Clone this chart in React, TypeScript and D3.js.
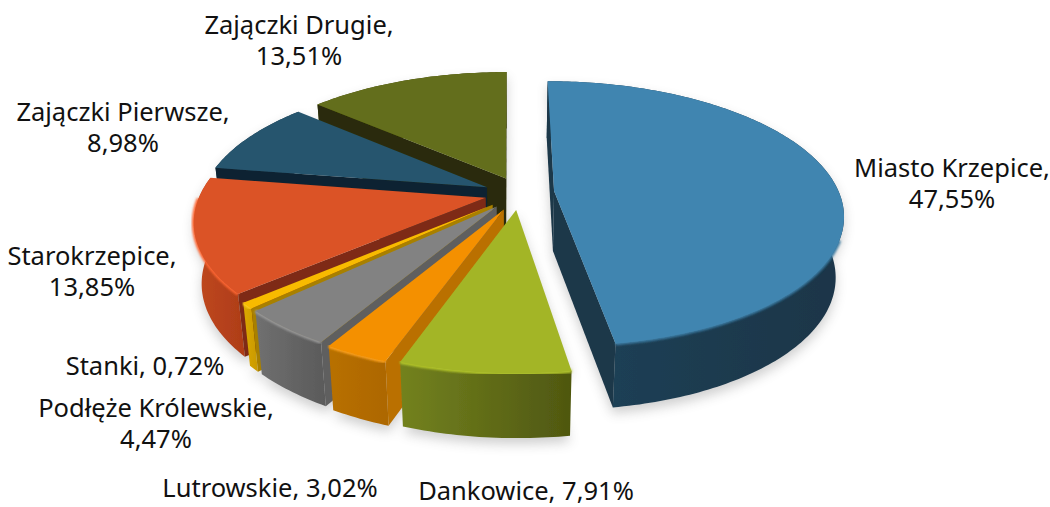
import React from "react";
import * as d3 from "d3";

const names = ["Miasto Krzepice","Dankowice","Lutrowskie","Podłęże Królewskie","Stanki","Starokrzepice","Zajączki Pierwsze","Zajączki Drugie"];
const shares = [47.55,7.91,3.02,4.47,0.72,13.85,8.98,13.51];

// styling / layout, per slice
const topColors = ["#4085b0","#a3b528","#f49000","#828282","#f8bb00","#db5327","#27556e","#646e1b"];
const rimColors = ["#3a7aa2","#b4c72c","#ffa31a","#9a9a9a","#ffcb20","#ff6633","#2e6280","#6f7a20"];
const rimLimit = [-0.35,0,0,0,0,0,0,0];
const wallColors = ["#1b3749","#6a6f18","#ba7000","#5e5e5e","#a88000","#7e2c14","#0f2330","#2a2c08"];
const sideLeft = ["#1e4258","#73821f","#b87000","#707070","#dba800","#c0481f","#1a3a4c","#454c12"];
const sideRight = ["#1a3548","#4f5710","#ad6700","#5a5a5a","#c99900","#ae3d18","#173343","#3f4510"];
const offsetX = [44,6,-6,-13,-17,-24,-23,-4];
const offsetY = [2,43,42,36,32,17,-6,-26];
const drawOrder = [7,6,5,0,4,3,2,1];
const labelX = [952,526,270,156,145,92,123,299];
const labelY = [168,490.5,488,408,366,256,112,25];
const labelOneLine = [false,true,true,false,true,false,false,false];

const W = 1050, H = 507, CX = 510, CY = 190, R = 284, P = 0.17, K = 0.451, DEPTH = 60, INSET = 0.025;

const pieGen = d3.pie<number>().sort(null).value((d) => d);
const arcs = pieGen(shares);
const line = d3.line<[number, number]>();

type Pt = [number, number];
const project = (i: number, radius: number, a: number, low: boolean): Pt => {
  const X = offsetX[i] + radius * Math.sin(a);
  const Y = offsetY[i] - radius * Math.cos(a);
  const w = 1 / (1 - (P * Y) / R);
  const x = CX + X * w * (low ? 1 - INSET : 1);
  const y = CY + K * Y * w + (low ? DEPTH * Math.pow(w, 0.35) : 0);
  return [x, y];
};
const angles = (a0: number, a1: number) => {
  const n = Math.max(4, Math.ceil((a1 - a0) * 60));
  return d3.range(n + 1).map((k) => a0 + ((a1 - a0) * k) / n);
};
const area = (q: Pt[]) => d3.polygonArea(q);

export default function App() {
  const fmt = (v: number) => `${v.toFixed(2).replace(".", ",")}%`;
  return (
    <svg width={W} height={H} style={{ position: "absolute", left: 0, top: 0, background: "#fff" }}>
      <defs>
        <filter id="sh" x="-20%" y="-20%" width="140%" height="140%"><feGaussianBlur stdDeviation="6" /></filter>
        <filter id="soft" x="-5%" y="-5%" width="110%" height="110%"><feGaussianBlur stdDeviation="0.9" /></filter>
        <filter id="aa" x="-2%" y="-2%" width="104%" height="104%"><feGaussianBlur stdDeviation="0.35" /></filter>
        {arcs.map((_, i) => (
          <linearGradient key={i} id={`side${i}`} x1="0" x2="1" y1="0" y2="0">
            <stop offset="0" stopColor={sideLeft[i]} />
            <stop offset="1" stopColor={sideRight[i]} />
          </linearGradient>
        ))}
      </defs>
      <g filter="url(#sh)" opacity={0.28} transform="translate(0,6)">
        {drawOrder.map((i) => {
          const a = arcs[i];
          const as = angles(a.startAngle, a.endAngle);
          const apexLow = project(i, 0, 0, true);
          const pts: Pt[] = [apexLow, ...as.map((t) => project(i, R, t, true))];
          const ptsTop: Pt[] = [project(i, 0, 0, false), ...as.map((t) => project(i, R, t, false))];
          return (
            <g key={i}>
              <path d={line(pts) + "Z"} fill="#555" />
              <path d={line(ptsTop) + "Z"} fill="#555" />
            </g>
          );
        })}
      </g>
      <g filter="url(#aa)">
        {drawOrder.map((i) => {
          const a = arcs[i];
          const as = angles(a.startAngle, a.endAngle);
          const apexT = project(i, 0, 0, false);
          const apexB = project(i, 0, 0, true);
          const topArc = as.map((t) => project(i, R, t, false));
          const lowArc = as.map((t) => project(i, R, t, true));
          const topPath = line([apexT, ...topArc]) + "Z";
          const q1: Pt[] = [apexT, topArc[0], lowArc[0], apexB];
          const q2: Pt[] = [apexT, topArc[topArc.length - 1], lowArc[lowArc.length - 1], apexB];
          const outer = line([...topArc, ...[...lowArc].reverse()]) + "Z";
          const rimArc = as.filter((t) => Math.cos(t) < rimLimit[i]).map((t) => project(i, R, t, false));
          return (
            <g key={i}>
              <path d={outer} fill={`url(#side${i})`} />
              {area(q1) > 0 && <path d={line(q1) + "Z"} fill={wallColors[i]} />}
              {area(q2) < 0 && <path d={line(q2) + "Z"} fill={wallColors[i]} />}
              {rimArc.length > 1 && (
                <path d={line(rimArc) ?? ""} fill="none" stroke={rimColors[i]} strokeWidth={3.5} filter="url(#soft)" />
              )}
              <path d={topPath} fill={topColors[i]} />
            </g>
          );
        })}
      </g>
      <g fontFamily="'Noto Sans', sans-serif" fontSize={25.5} fill="#111" textAnchor="middle">
        {names.map((n, i) =>
          labelOneLine[i] ? (
            <text key={n} x={labelX[i]} y={labelY[i] + 9}>{`${n}, ${fmt(shares[i])}`}</text>
          ) : (
            <text key={n} x={labelX[i]} y={labelY[i] + 9}>
              <tspan x={labelX[i]}>{`${n},`}</tspan>
              <tspan x={labelX[i]} dy={31}>{fmt(shares[i])}</tspan>
            </text>
          )
        )}
      </g>
    </svg>
  );
}
